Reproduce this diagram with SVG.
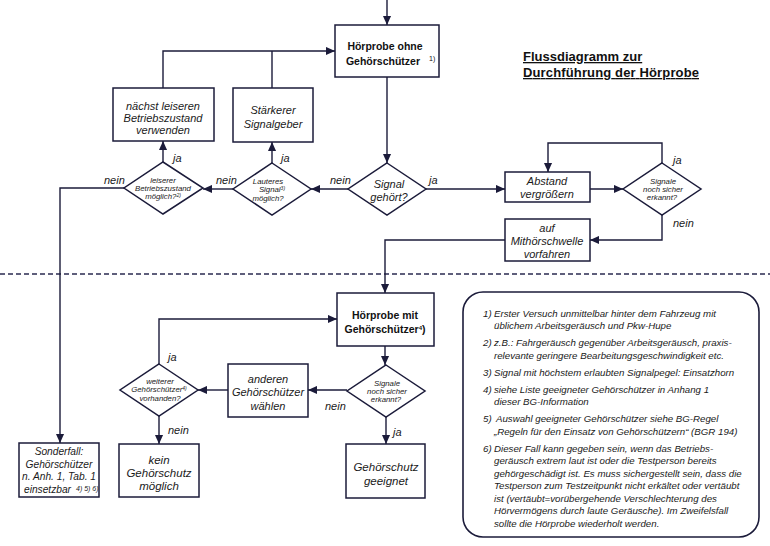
<svg xmlns="http://www.w3.org/2000/svg" width="770" height="546" viewBox="0 0 770 546">
<defs>
<marker id="ah" viewBox="0 0 10 10" refX="10" refY="5" markerWidth="9" markerHeight="9" markerUnits="userSpaceOnUse" orient="auto"><path d="M0,0.5 L10,5 L0,9.5 z" fill="#1b1b3a"/></marker>
<style>
.box{fill:#fff;stroke:#1b1b3a;stroke-width:1.5}
.con{fill:none;stroke:#1b1b3a;stroke-width:1.4}
.arr{marker-end:url(#ah)}
.it{font-family:"Liberation Sans",Arial,sans-serif;font-style:italic;fill:#1a1a1a;text-anchor:middle}
.st{text-anchor:start}
.lb{font-size:11px}
.sm{font-size:7.8px}
.lab{font-family:"Liberation Sans",Arial,sans-serif;font-style:italic;font-size:11px;fill:#1a1a1a}
.bd{font-family:"Liberation Sans",Arial,sans-serif;font-weight:bold;font-size:10.5px;fill:#111;text-anchor:middle}
.note{font-family:"Liberation Sans",Arial,sans-serif;font-style:italic;font-size:9.7px;fill:#1a1a1a}
</style>
</defs>
<rect width="770" height="546" fill="#fff"/>

<g id="title">
<text x="523" y="61" font-family="'Liberation Sans',Arial,sans-serif" font-size="13" font-weight="bold" fill="#111" text-decoration="underline">Flussdiagramm zur</text>
<text x="523" y="77" font-family="'Liberation Sans',Arial,sans-serif" font-size="13" font-weight="bold" fill="#111" text-decoration="underline" textLength="176">Durchführung der Hörprobe</text>
</g>

<line x1="0" y1="274" x2="770" y2="274" stroke="#2a2a50" stroke-width="1.3" stroke-dasharray="5 3"/>

<g id="connectors">
<path class="con arr" d="M387,0 V25"/>
<path class="con arr" d="M387,77 V163"/>
<path class="con arr" d="M426,189 H505"/>
<path class="con arr" d="M590,189 H623"/>
<path class="con arr" d="M662,163 V143 H548 V172"/>
<path class="con arr" d="M662,215 V240 H590"/>
<path class="con arr" d="M505,240 H385 V293"/>
<path class="con arr" d="M348,189 H311"/>
<path class="con arr" d="M272,163 V142"/>
<path class="con" d="M272,88 V51"/>
<path class="con arr" d="M163,88 V51 H335"/>
<path class="con arr" d="M233,189 H203"/>
<path class="con arr" d="M163,162 V141"/>
<path class="con arr" d="M124,188 H60 V443"/>
<path class="con arr" d="M385,346 V365"/>
<path class="con arr" d="M347,390 H308"/>
<path class="con arr" d="M228,390 H198"/>
<path class="con arr" d="M159,364 V319 H337"/>
<path class="con arr" d="M159,416 V444"/>
<path class="con arr" d="M386,417 V444"/>
<text class="lab" x="429" y="184">ja</text>
<text class="lab" x="673" y="164">ja</text>
<text class="lab" x="673" y="227">nein</text>
<text class="lab" x="330" y="184">nein</text>
<text class="lab" x="281" y="162">ja</text>
<text class="lab" x="216" y="184">nein</text>
<text class="lab" x="173" y="162">ja</text>
<text class="lab" x="104" y="184">nein</text>
<text class="lab" x="325" y="410">nein</text>
<text class="lab" x="168" y="361">ja</text>
<text class="lab" x="168" y="434">nein</text>
<text class="lab" x="393" y="436">ja</text>
</g>

<g id="hoerprobe-ohne">
<rect class="box" x="335" y="25" width="104" height="52"/>
<text class="bd" x="385" y="50">Hörprobe ohne</text>
<text class="bd" x="383" y="65">Gehörschützer</text>
<text x="429" y="61" font-family="'Liberation Sans',Arial,sans-serif" font-size="7" fill="#111">1)</text>
</g>

<g id="signal-gehoert">
<polygon class="box" points="387,163 426,189 387,215 348,189"/>
<text class="it lb" x="389" y="188">Signal</text>
<text class="it lb" x="389" y="201">gehört?</text>
</g>

<g id="abstand">
<rect class="box" x="505" y="172" width="85" height="30"/>
<text class="it lb" x="547" y="185">Abstand</text>
<text class="it lb" x="547" y="198">vergrößern</text>
</g>

<g id="signale-oben">
<polygon class="box" points="662,163 701,189 662,215 623,189"/>
<text class="it sm" x="663" y="184">Signale</text>
<text class="it sm" x="663" y="192">noch sicher</text>
<text class="it sm" x="662" y="200">erkannt?</text>
</g>

<g id="mithoerschwelle">
<rect class="box" x="505" y="219" width="85" height="42"/>
<text class="it lb" x="547" y="232">auf</text>
<text class="it lb" x="547" y="245">Mithörschwelle</text>
<text class="it lb" x="547" y="258">vorfahren</text>
</g>

<g id="lauteres-signal">
<polygon class="box" points="272,163 311,189 272,215 233,189"/>
<text class="it sm" x="268" y="184">Lauteres</text>
<text class="it sm" x="272" y="192">Signal<tspan font-size="5" dy="-2.5">3)</tspan></text>
<text class="it sm" x="268" y="201">möglich?</text>
</g>

<g id="staerkerer">
<rect class="box" x="233" y="88" width="80" height="54"/>
<text class="it lb" x="273" y="114">Stärkerer</text>
<text class="it lb" x="273" y="128">Signalgeber</text>
</g>

<g id="naechst-leiseren">
<rect class="box" x="113" y="88" width="101" height="53"/>
<text class="it lb" x="163" y="110">nächst leiseren</text>
<text class="it lb" x="163" y="122">Betriebszustand</text>
<text class="it lb" x="163" y="134">verwenden</text>
</g>

<g id="leiserer">
<polygon class="box" points="163,162 203,188 163,214 124,188"/>
<text class="it sm" x="163" y="183">leiserer</text>
<text class="it sm" x="163" y="191">Betriebszustand</text>
<text class="it sm" x="163" y="199">möglich?<tspan font-size="5" dy="-2.5">2)</tspan></text>
</g>

<g id="sonderfall">
<rect class="box" x="19" y="443" width="80" height="54"/>
<text class="it" font-size="10.2" x="59" y="455">Sonderfall:</text>
<text class="it" font-size="10.2" x="59" y="468">Gehörschützer</text>
<text class="it" font-size="10.2" x="59" y="480">n. Anh. 1, Tab. 1</text>
<text class="it st" font-size="10.2" x="24" y="493">einsetzbar<tspan font-size="7" dx="5" dy="-2">4) 5) 6)</tspan></text>
</g>

<g id="hoerprobe-mit">
<rect class="box" x="337" y="293" width="97" height="53"/>
<text class="bd" x="385" y="319">Hörprobe mit</text>
<text class="bd" x="385" y="333">Gehörschützer<tspan font-size="6" dy="-3">4</tspan><tspan dy="3">)</tspan></text>
</g>

<g id="signale-unten">
<polygon class="box" points="386,365 425,391 386,417 347,391"/>
<text class="it sm" x="387" y="386">Signale</text>
<text class="it sm" x="387" y="394">noch sicher</text>
<text class="it sm" x="386" y="402">erkannt?</text>
</g>

<g id="anderen">
<rect class="box" x="228" y="364" width="80" height="53"/>
<text class="it lb" x="268" y="383">anderen</text>
<text class="it lb" x="268" y="396">Gehörschützer</text>
<text class="it lb" x="268" y="410">wählen</text>
</g>

<g id="weiterer">
<polygon class="box" points="159,364 198,390 159,416 120,390"/>
<text class="it sm" x="160" y="384">weiterer</text>
<text class="it sm" x="159" y="392">Gehörschützer<tspan font-size="5" dy="-2.5">4)</tspan></text>
<text class="it sm" x="160" y="401">vorhanden?</text>
</g>

<g id="kein">
<rect class="box" x="119" y="444" width="80" height="53"/>
<text class="it" font-size="11.5" x="159" y="464">kein</text>
<text class="it" font-size="11.5" x="159" y="477">Gehörschutz</text>
<text class="it" font-size="11.5" x="159" y="490">möglich</text>
</g>

<g id="geeignet">
<rect class="box" x="346" y="444" width="79" height="54"/>
<text class="it" font-size="11.5" x="386" y="471">Gehörschutz</text>
<text class="it" font-size="11.5" x="386" y="485">geeignet</text>
</g>

<g id="notes">
<rect x="463" y="292" width="296" height="245" rx="20" ry="20" fill="#fff" stroke="#1b1b3a" stroke-width="1.6"/>
<text class="note" x="483" y="316.5">1)</text>
<text class="note" x="494" y="316.5">Erster Versuch unmittelbar hinter dem Fahrzeug mit</text>
<text class="note" x="494" y="329">üblichem Arbeitsgeräusch und Pkw-Hupe</text>
<text class="note" x="483" y="346">2)</text>
<text class="note" x="494" y="346">z.B.: Fahrgeräusch gegenüber Arbeitsgeräusch, praxis-</text>
<text class="note" x="494" y="358.5">relevante geringere Bearbeitungsgeschwindigkeit etc.</text>
<text class="note" x="483" y="375.5">3)</text>
<text class="note" x="494" y="375.5">Signal mit höchstem erlaubten Signalpegel: Einsatzhorn</text>
<text class="note" x="483" y="392.5">4)</text>
<text class="note" x="494" y="392.5">siehe Liste geeigneter Gehörschützer in Anhang 1</text>
<text class="note" x="494" y="405">dieser BG-Information</text>
<text class="note" x="483" y="422">5)</text>
<text class="note" x="496" y="422">Auswahl geeigneter Gehörschützer siehe BG-Regel</text>
<text class="note" x="494" y="434.5">„Regeln für den Einsatz von Gehörschützern“ (BGR 194)</text>
<text class="note" x="483" y="451.5">6)</text>
<text class="note" x="494" y="451.5">Dieser Fall kann gegeben sein, wenn das Betriebs-</text>
<text class="note" x="494" y="464">geräusch extrem laut ist oder die Testperson bereits</text>
<text class="note" x="494" y="476.5">gehörgeschädigt ist. Es muss sichergestellt sein, dass die</text>
<text class="note" x="494" y="489">Testperson zum Testzeitpunkt nicht erkältet oder vertäubt</text>
<text class="note" x="494" y="501.5">ist (vertäubt=vorübergehende Verschlechterung des</text>
<text class="note" x="494" y="514">Hörvermögens durch laute Geräusche). Im Zweifelsfall</text>
<text class="note" x="494" y="526.5">sollte die Hörprobe wiederholt werden.</text>
</g>
</svg>
